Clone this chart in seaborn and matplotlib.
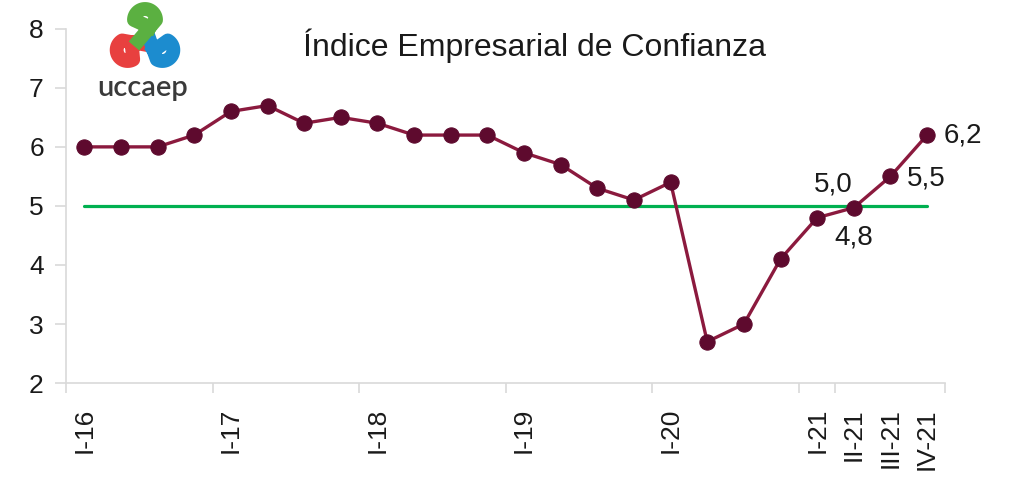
import numpy as np
import pandas as pd
import matplotlib.pyplot as plt
import seaborn as sns
from matplotlib.ticker import FixedLocator

# Quarterly values of the business confidence index
quarters = ["I-16", "II-16", "III-16", "IV-16",
            "I-17", "II-17", "III-17", "IV-17",
            "I-18", "II-18", "III-18", "IV-18",
            "I-19", "II-19", "III-19", "IV-19",
            "I-20", "II-20", "III-20", "IV-20",
            "I-21", "II-21", "III-21", "IV-21"]
index_values = [6.0, 6.0, 6.0, 6.2,
                6.6, 6.7, 6.4, 6.5,
                6.4, 6.2, 6.2, 6.2,
                5.9, 5.7, 5.3, 5.1,
                5.4, 2.7, 3.0, 4.1,
                4.8, 4.97, 5.5, 6.2]
threshold = 5.0
shown_labels = ["I-16", "I-17", "I-18", "I-19", "I-20", "I-21", "II-21", "III-21", "IV-21"]
annotated = {"IV-21": "6,2", "III-21": "5,5", "II-21": "4,8", "I-21": "5,0"}

df = pd.DataFrame({"quarter": quarters, "value": index_values})
df["pos"] = np.arange(len(df))

sns.set_theme(style="white")
plt.rcParams["font.family"] = ["Liberation Sans", "DejaVu Sans"]

fig = plt.figure(figsize=(10.12, 4.8), dpi=100)
ax = fig.add_axes([0.0652, 0.202, 0.869, 0.738])

ax.plot([df["pos"].iloc[0], df["pos"].iloc[-1]], [threshold, threshold],
        color="#00b050", lw=2.3, zorder=1)
sns.lineplot(data=df, x="pos", y="value", ax=ax, color="#8b1a3e", lw=2.4,
             marker="o", markersize=11, markerfacecolor="#5e0a2e",
             markeredgecolor="#5e0a2e", zorder=3)

ax.set_xlim(-0.5, len(df) - 0.5)
ax.set_ylim(2, 8)
ax.set_yticks(range(2, 9))

pos_lookup = dict(zip(df["quarter"], df["pos"]))
ax.set_xticks([pos_lookup[q] for q in shown_labels])
ax.set_xticklabels(shown_labels, rotation=90, fontsize=19, color="#1a1a1a")
ax.tick_params(axis="x", which="major", length=0, pad=18)
ax.xaxis.set_minor_locator(FixedLocator(
    [-0.5, 3.5, 7.5, 11.5, 15.5, 19.5, 20.5, 23.5]))
ax.tick_params(axis="x", which="minor", length=7, color="#d9d9d9", width=1.2, bottom=True)
ax.tick_params(axis="y", length=8, color="#d9d9d9", width=1.2, left=True,
               labelsize=19, labelcolor="#1a1a1a", pad=8)

for side in ["top", "right"]:
    ax.spines[side].set_visible(False)
for side in ["left", "bottom"]:
    ax.spines[side].set_color("#d9d9d9")
    ax.spines[side].set_linewidth(1.2)

ax.set_xlabel("")
ax.set_ylabel("")

# data labels (x offset in quarters, label height in index units)
label_place = {"IV-21": (0.46, 6.2, "left"), "III-21": (0.46, 5.47, "left"),
               "II-21": (0.0, 4.47, "center"), "I-21": (0.44, 5.37, "center")}
for q, txt in annotated.items():
    dx, ty, ha = label_place[q]
    ax.text(pos_lookup[q] + dx, ty, txt, ha=ha, va="center",
            fontsize=20, color="#1a1a1a")

fig.text(0.528, 0.905, "Índice Empresarial de Confianza", ha="center", va="center",
         fontsize=23, color="#1a1a1a")

# logo: three rounded lobes around a common centre, drawn in pixel coordinates
lax = fig.add_axes([100 / 1012, 1 - 80 / 480, 100 / 1012, 80 / 480])
lax.set_xlim(100, 200)
lax.set_ylim(80, 0)
lax.axis("off")
cx, cy = 145, 40
for ang, col in [(150, "#e8403f"), (30, "#1c8ccf"), (-90, "#5bb041")]:
    t = np.deg2rad(ang)
    o = np.array([np.cos(t), np.sin(t)])
    p = np.array([-np.sin(t), np.cos(t)])
    r, uc = 11, 20
    arc = np.linspace(np.pi, 0, 30)
    u = np.concatenate([[-6], uc + r * np.sin(arc), [10]])
    v = np.concatenate([[-r], -r * np.cos(arc), [r]])
    xs = cx + u * o[0] + v * p[0]
    ys = cy + u * o[1] + v * p[1]
    lax.plot(xs, ys, color=col, lw=10, solid_capstyle="butt", solid_joinstyle="round")
fig.text(143 / 1012, 1 - 88 / 480, "uccaep", ha="center", va="center", fontsize=21,
         color="#3a3a3a", family=["Lato", "DejaVu Sans"], fontweight="semibold")

fig.savefig("out.png", dpi=100)
